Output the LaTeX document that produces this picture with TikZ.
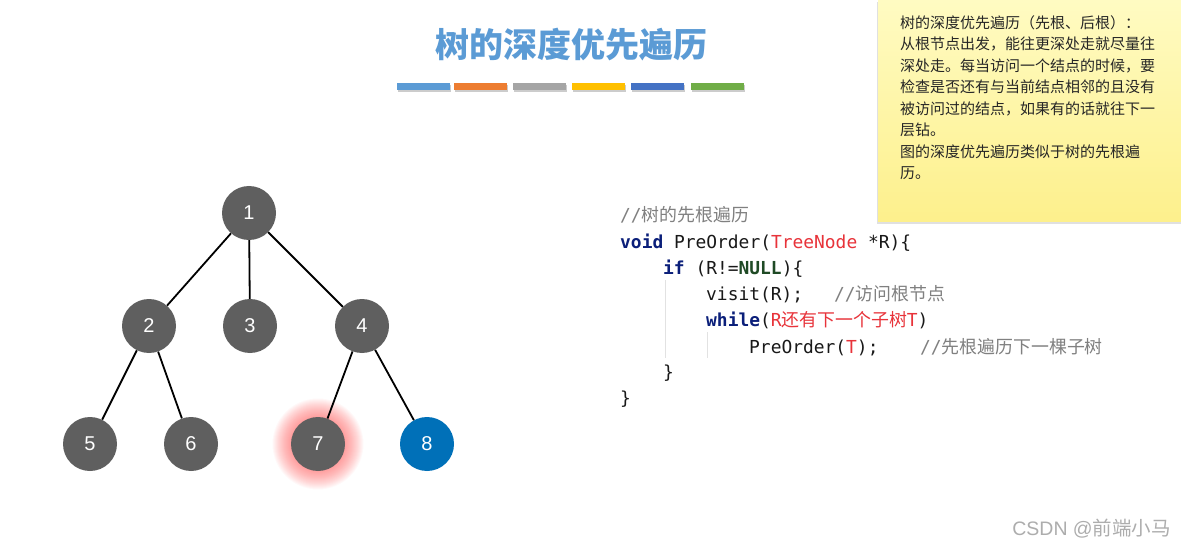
\documentclass[tikz,border=0pt]{standalone}
\usepackage{fontspec}
\setmainfont{Noto Sans CJK SC}
\setmonofont{DejaVu Sans Mono}
\newfontfamily\cjk{Noto Sans CJK SC}
\newfontfamily\numfont{Liberation Sans}
\definecolor{nodegray}{HTML}{5F5F5F}
\definecolor{nodeblue}{HTML}{0070B8}
\definecolor{titleblue}{HTML}{5B9BD5}
\definecolor{barA}{HTML}{5B9BD5}
\definecolor{barB}{HTML}{ED7D31}
\definecolor{barC}{HTML}{A5A5A5}
\definecolor{barD}{HTML}{FFC000}
\definecolor{barE}{HTML}{4472C4}
\definecolor{barF}{HTML}{70AD47}
\definecolor{noteTop}{HTML}{FFFBC2}
\definecolor{noteBot}{HTML}{FDF08C}
\definecolor{kw}{HTML}{0B1F7A}
\definecolor{nullc}{HTML}{1F4A25}
\definecolor{redc}{HTML}{E8333A}
\definecolor{cmt}{HTML}{808080}
\definecolor{guide}{HTML}{E2E2E2}
\begin{document}
\begin{tikzpicture}[x=1pt,y=-1pt,
  tn/.style={circle,minimum size=54pt,inner sep=0pt,fill=nodegray,text=white,font=\numfont\fontsize{20}{20}\selectfont},
  edge/.style={line width=1.8pt,black},
  bar/.style={inner sep=0pt,minimum width=53pt,minimum height=7pt},
  notetxt/.style={anchor=base west,inner sep=0pt,font=\cjk\fontsize{15}{15}\selectfont,text=black!85},
  code/.style={anchor=base west,inner sep=0pt,font=\ttfamily\fontsize{17.9}{17.9}\selectfont,text=black!90},
  cmtstyle/.style={code,text=cmt}]
\useasboundingbox (0,0) rectangle (1181,548);
\fill[white] (0,0) rectangle (1181,548);

% title
\node[font=\cjk\bfseries\fontsize{34}{34}\selectfont,text=titleblue] (title) at (571,45) {树的深度优先遍历};

% bars with shadow
\foreach \x/\c [count=\i] in {423.5/barA,480.5/barB,539.5/barC,598.5/barD,657.5/barE,717.5/barF}{
  \fill[black!20] (\x-26.5+1,86.5-3.5+2.5) rectangle (\x+26.5+1,86.5+3.5+2.5);
  \node[bar,fill=\c] (bar\i) at (\x,86.5) {};
}

% sticky note
\fill[black!12] (877,2) rectangle (1181,224.5);
\shade[top color=noteTop,bottom color=noteBot] (878,0) rectangle (1181,222);
\node[notetxt] (nt1) at (900,28.5) {树的深度优先遍历（先根、后根）：};
\node[notetxt] (nt2) at (900,50) {从根节点出发，能往更深处走就尽量往};
\node[notetxt] (nt3) at (900,71.5) {深处走。每当访问一个结点的时候，要};
\node[notetxt] (nt4) at (900,93) {检查是否还有与当前结点相邻的且没有};
\node[notetxt] (nt5) at (900,114.5) {被访问过的结点，如果有的话就往下一};
\node[notetxt] (nt6) at (900,136) {层钻。};
\node[notetxt] (nt7) at (900,157.5) {图的深度优先遍历类似于树的先根遍};
\node[notetxt] (nt8) at (900,179) {历。};

% tree
\coordinate (c7) at (318,444);
\foreach \r in {27.5,28.5,...,45.5}{
  \fill[red!70!white,opacity=0.035] (c7) circle (\r);
}
\node[tn] (n1) at (249,213) {1};
\node[tn] (n2) at (149,326) {2};
\node[tn] (n3) at (250,326) {3};
\node[tn] (n4) at (362,326) {4};
\node[tn] (n5) at (90,444) {5};
\node[tn] (n6) at (191,444) {6};
\node[tn] (n7) at (c7) {7};
\node[tn,fill=nodeblue] (n8) at (427,444) {8};
\draw[edge] (n1) -- (n2);
\draw[edge] (n1) -- (n3);
\draw[edge] (n1) -- (n4);
\draw[edge] (n2) -- (n5);
\draw[edge] (n2) -- (n6);
\draw[edge] (n4) -- (n7);
\draw[edge] (n4) -- (n8);

% code
\draw[guide,line width=1pt] (665,280) -- (665,358);
\draw[guide,line width=1pt] (707,332) -- (707,358);
\node[cmtstyle] (l1) at (620,222) {//{\cjk 树的先根遍历}};
\node[code] (l2) at (620,248) {\textcolor{kw}{\bfseries void} PreOrder(\textcolor{redc}{TreeNode} *R)\{};
\node[code] (l3) at (663,274) {\textcolor{kw}{\bfseries if} (R!=\textcolor{nullc}{\bfseries NULL})\{};
\node[code] (l4) at (706,301) {visit(R);};
\node[cmtstyle] (c4) at (834,301) {//{\cjk 访问根节点}};
\node[code] (l5) at (706,326) {\textcolor{kw}{\bfseries while}(\textcolor{redc}{R{\cjk 还有下一个子树}T})};
\node[code] (l6) at (749,353) {PreOrder(\textcolor{redc}{T});};
\node[cmtstyle] (c6) at (920,353) {//{\cjk 先根遍历下一棵子树}};
\node[code] (l7) at (663,378) {\}};
\node[code] (l8) at (620,404) {\}};

% watermark
\node[anchor=base east,inner sep=0pt,font=\fontsize{19.5}{19.5}\selectfont,text=black!32] (wm) at (1171,535) {{\numfont CSDN @}{\cjk 前端小马}};
\end{tikzpicture}
\end{document}
